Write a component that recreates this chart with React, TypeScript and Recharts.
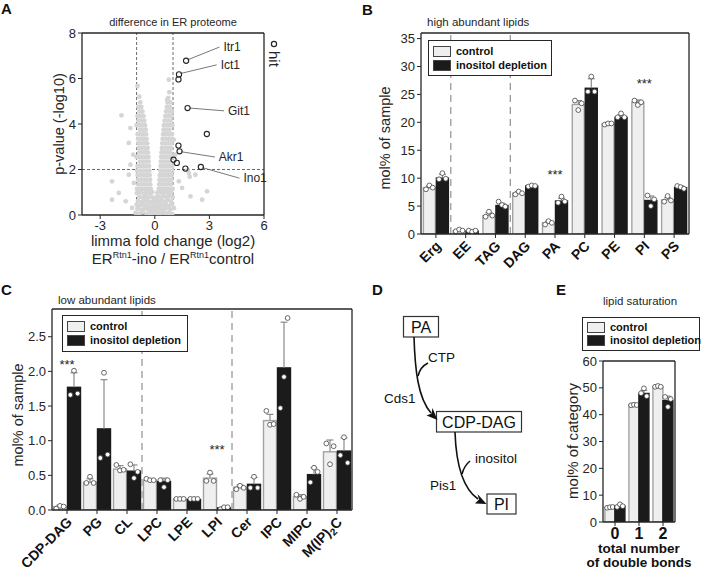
import React from "react"
import {
  Bar,
  BarChart,
  Legend,
  ReferenceDot,
  ReferenceLine,
  Scatter,
  ScatterChart,
  XAxis,
  YAxis,
} from "recharts"

const FONT = "'Liberation Sans', Arial, Helvetica, sans-serif"
const INK = "#262626"
const CONTROL_FILL = "#efefef"
const CONTROL_EDGE = "#a3a3a3"
const INO_FILL = "#1b1b1b"
const ERR_GREY = "#808080"
const CLOUD_GREY = "#d5d5d5"

// ---------- A: volcano plot ----------
const cloudCore: [number, number][] = [
  [-1.05, 0.1], [-0.85, 0.05], [-0.65, 0.12], [-0.45, 0.04], [-0.3, 0.08], [-0.18, 0.02], [-0.06, 0.06], [0.04, 0.03], [0.15, 0.09], [0.28, 0.05], [0.42, 0.11], [0.6, 0.06], [0.78, 0.1], [0.95, 0.04],
  [-0.95, 0.28], [-0.75, 0.22], [-0.58, 0.3], [-0.4, 0.25], [-0.25, 0.2], [-0.12, 0.18], [0.0, 0.22], [0.12, 0.26], [0.22, 0.2], [0.35, 0.28], [0.5, 0.22], [0.68, 0.3], [0.85, 0.24], [1.05, 0.3],
  [-1.0, 0.45], [-0.8, 0.42], [-0.62, 0.48], [-0.45, 0.4], [-0.3, 0.38], [-0.18, 0.36], [-0.05, 0.4], [0.08, 0.42], [0.2, 0.38], [0.32, 0.45], [0.46, 0.4], [0.62, 0.47], [0.78, 0.4], [0.95, 0.46],
  [-0.92, 0.62], [-0.72, 0.58], [-0.55, 0.66], [-0.38, 0.58], [-0.22, 0.55], [-0.1, 0.6], [0.03, 0.58], [0.15, 0.62], [0.27, 0.56], [0.4, 0.64], [0.55, 0.58], [0.7, 0.66], [0.88, 0.6],
  [-0.85, 0.8], [-0.66, 0.76], [-0.5, 0.84], [-0.34, 0.76], [-0.2, 0.8], [-0.06, 0.74], [0.08, 0.78], [0.2, 0.82], [0.33, 0.76], [0.48, 0.84], [0.64, 0.78], [0.8, 0.84], [0.98, 0.78],
  [-0.98, 0.96], [-0.78, 1.0], [-0.6, 0.94], [-0.44, 1.02], [-0.28, 0.96], [-0.14, 1.0], [0.14, 0.98], [0.28, 1.04], [0.42, 0.96], [0.58, 1.02], [0.74, 0.96], [0.9, 1.0],
]

const cloudLeftArm: [number, number][] = [
  [-0.22, 1.15], [-0.36, 1.15], [-0.52, 1.15], [-0.68, 1.15], [-0.84, 1.15], [-0.98, 1.15],
  [-0.25, 1.35], [-0.4, 1.35], [-0.56, 1.35], [-0.72, 1.35], [-0.9, 1.35],
  [-0.26, 1.55], [-0.42, 1.55], [-0.58, 1.55], [-0.75, 1.55], [-0.92, 1.55],
  [-0.28, 1.75], [-0.44, 1.75], [-0.6, 1.75], [-0.76, 1.75], [-0.94, 1.75],
  [-0.3, 1.95], [-0.46, 1.95], [-0.62, 1.95], [-0.8, 1.95], [-0.97, 1.95],
  [-0.32, 2.15], [-0.48, 2.15], [-0.64, 2.15], [-0.8, 2.15], [-0.95, 2.15],
  [-0.34, 2.35], [-0.5, 2.35], [-0.66, 2.35], [-0.82, 2.35],
  [-0.35, 2.55], [-0.52, 2.55], [-0.68, 2.55], [-0.85, 2.55], [-1.0, 2.55],
  [-0.38, 2.75], [-0.54, 2.75], [-0.7, 2.75], [-0.86, 2.75],
  [-0.4, 2.95], [-0.56, 2.95], [-0.72, 2.95], [-0.88, 2.95],
  [-0.42, 3.15], [-0.58, 3.15], [-0.74, 3.15], [-0.9, 3.15],
  [-0.45, 3.35], [-0.6, 3.35], [-0.76, 3.35], [-0.92, 3.35],
  [-0.48, 3.55], [-0.63, 3.55], [-0.78, 3.55], [-0.94, 3.55],
  [-0.5, 3.75], [-0.66, 3.75], [-0.82, 3.75],
  [-0.54, 3.95], [-0.7, 3.95], [-0.86, 3.95], [-1.0, 3.95],
  [-0.58, 4.15], [-0.74, 4.15], [-0.9, 4.15],
  [-0.62, 4.35], [-0.78, 4.35], [-0.95, 4.35],
  [-0.68, 4.55], [-0.84, 4.55],
  [-0.74, 4.75], [-0.9, 4.75],
  [-0.8, 4.95], [-0.85, 5.2], [-0.95, 5.67],
]

const cloudRightArm: [number, number][] = [
  [0.22, 1.15], [0.36, 1.15], [0.52, 1.15], [0.68, 1.15], [0.84, 1.15], [0.98, 1.15],
  [0.24, 1.35], [0.4, 1.35], [0.56, 1.35], [0.72, 1.35], [0.88, 1.35],
  [0.26, 1.55], [0.42, 1.55], [0.58, 1.55], [0.74, 1.55], [0.9, 1.55],
  [0.28, 1.75], [0.44, 1.75], [0.6, 1.75], [0.76, 1.75], [0.92, 1.75],
  [0.3, 1.95], [0.46, 1.95], [0.62, 1.95], [0.78, 1.95], [0.95, 1.95],
  [0.32, 2.15], [0.48, 2.15], [0.64, 2.15], [0.8, 2.15], [0.96, 2.15],
  [0.33, 2.35], [0.5, 2.35], [0.66, 2.35], [0.82, 2.35],
  [0.35, 2.55], [0.52, 2.55], [0.68, 2.55], [0.84, 2.55], [0.98, 2.55],
  [0.37, 2.75], [0.54, 2.75], [0.7, 2.75], [0.86, 2.75],
  [0.39, 2.95], [0.56, 2.95], [0.72, 2.95], [0.88, 2.95],
  [0.41, 3.15], [0.58, 3.15], [0.74, 3.15], [0.9, 3.15],
  [0.43, 3.35], [0.6, 3.35], [0.76, 3.35], [0.92, 3.35],
  [0.46, 3.55], [0.62, 3.55], [0.78, 3.55], [0.94, 3.55],
  [0.48, 3.75], [0.64, 3.75], [0.8, 3.75],
  [0.5, 3.95], [0.66, 3.95], [0.82, 3.95], [0.96, 3.95],
  [0.54, 4.15], [0.7, 4.15], [0.86, 4.15],
  [0.58, 4.35], [0.74, 4.35], [0.9, 4.35],
  [0.62, 4.55], [0.78, 4.55], [0.94, 4.55],
  [0.66, 4.75], [0.82, 4.75],
  [0.7, 4.95], [0.86, 4.95],
  [0.74, 5.15], [0.68, 5.07], [0.8, 5.4], [0.77, 5.95],
]

const cloudOutliers: [number, number][] = [
  [-1.83, 4.38], [-1.43, 3.17], [-1.34, 3.82], [-1.19, 2.65], [-1.43, 1.77], [-1.15, 1.41],
  [-1.98, 0.97], [-2.35, 0.67], [-1.6, 0.6], [-1.25, 0.31], [-2.35, 1.48], [-1.34, 2.21],
  [1.04, 3.31], [1.13, 2.65], [1.32, 1.48], [1.87, 1.85], [2.23, 1.77], [1.5, 1.19],
  [2.87, 1.04], [2.6, 0.67], [1.96, 0.82], [1.8, 1.98], [1.92, 1.68],
]

const hitPoints: [number, number][] = [
  [1.72, 6.78], [1.33, 6.18], [1.3, 5.96], [1.8, 4.7], [2.86, 3.56], [1.3, 3.05],
  [1.36, 2.8], [1.03, 2.43], [1.21, 2.29], [1.68, 2.04], [2.53, 2.11],
]

const hitNames = ["Itr1", "Ict1", "Git1", "Akr1", "Ino1"]
const hitLineFrom: [number, number][] = [[1.8, 6.82], [1.42, 6.22], [1.92, 4.7], [1.45, 2.78], [2.62, 2.08]]
const hitLineTo: [number, number][] = [[3.55, 7.38], [3.4, 6.6], [3.8, 4.58], [3.3, 2.55], [4.65, 1.62]]

const volcanoXTicks = [-3, 0, 3, 6]
const volcanoYTicks = [0, 2, 4, 6, 8]

// ---------- B: high abundant lipids ----------
const highLipids = ["Erg", "EE", "TAG", "DAG", "PA", "PC", "PE", "PI", "PS"]
const highControl = [8.3, 0.6, 3.3, 7.3, 2.0, 23.2, 19.7, 23.6, 6.1]
const highInositol = [10.0, 0.5, 5.1, 8.6, 5.9, 26.1, 20.9, 6.0, 8.3]
const highControlErr = [0.3, 0.15, 0.5, 0.3, 0.3, 0.7, 0.1, 0.4, 0.4]
const highInositolErr = [0.7, 0.15, 0.4, 0.1, 0.5, 1.7, 0.4, 0.8, 0.3]
const highControlReps = [[8.0, 8.7, 8.3], [0.5, 0.8, 0.6], [3.1, 4.0, 3.3], [7.1, 7.6, 7.3], [1.7, 2.3, 2.0], [23.9, 22.2, 23.4], [19.6, 19.8, 19.8], [23.9, 23.1, 23.6], [5.8, 6.8, 6.0]]
const highInositolReps = [[9.8, 10.9, 9.9], [0.6, 0.4, 0.6], [5.8, 5.2, 4.9], [8.5, 8.7, 8.6], [5.6, 6.7, 5.8], [25.5, 28.2, 25.5], [20.9, 21.6, 20.9], [6.9, 5.0, 6.2], [8.6, 8.4, 8.1]]
const highTicks = [0, 5, 10, 15, 20, 25, 30, 35]
const highStars = [{ name: "PA", at: 10.6 }, { name: "PI", at: 26.9 }]
const highDividers = ["EE", "DAG"]

// ---------- C: low abundant lipids ----------
const lowLipids = ["CDP-DAG", "PG", "CL", "LPC", "LPE", "LPI", "Cer", "IPC", "MIPC", "M(IP)2C"]
const lowControl = [0.05, 0.4, 0.59, 0.43, 0.16, 0.46, 0.33, 1.29, 0.19, 0.84]
const lowInositol = [1.77, 1.17, 0.56, 0.41, 0.15, 0.03, 0.37, 2.05, 0.51, 0.85]
const lowControlErr = [0.02, 0.05, 0.05, 0.02, 0.01, 0.06, 0.03, 0.09, 0.03, 0.17]
const lowInositolErr = [0.21, 0.71, 0.09, 0.05, 0.01, 0.02, 0.1, 0.66, 0.1, 0.19]
const lowControlReps = [[0.02, 0.06, 0.05], [0.39, 0.48, 0.39], [0.65, 0.57, 0.58], [0.45, 0.43, 0.43], [0.16, 0.16, 0.16], [0.42, 0.54, 0.42], [0.3, 0.35, 0.32], [1.43, 1.23, 1.24], [0.22, 0.16, 0.19], [0.96, 0.66, 0.92]]
const lowInositolReps = [[1.66, 2.01, 1.68], [0.75, 1.98, 0.8], [0.66, 0.46, 0.55], [0.43, 0.33, 0.43], [0.16, 0.16, 0.16], [0.01, 0.04, 0.04], [0.32, 0.48, 0.32], [1.47, 1.92, 2.77], [0.4, 0.61, 0.55], [0.79, 1.05, 0.68]]
const lowTicks = [0, 0.5, 1, 1.5, 2, 2.5]
const lowStars = [{ name: "CDP-DAG", at: 2.1 }, { name: "LPI", at: 0.87 }]
const lowDividers = ["LPC", "Cer"]

// ---------- E: lipid saturation ----------
const bondCounts = ["0", "1", "2"]
const satControl = [5.5, 43.6, 50.4]
const satInositol = [5.9, 47.9, 45.2]
const satControlErr = [0.2, 0.1, 0.2]
const satInositolErr = [0.5, 1.2, 1.7]
const satControlReps = [[5.3, 5.5, 5.6], [43.5, 43.7, 43.6], [50.4, 50.7, 50.4]]
const satInositolReps = [[5.6, 6.6, 5.9], [48.0, 49.8, 46.9], [46.6, 42.9, 45.8]]
const satTicks = [0, 10, 20, 30, 40, 50, 60]

const buildRows = (
  names: string[], control: number[], inositol: number[],
  controlErr: number[], inositolErr: number[],
  controlReps: number[][], inositolReps: number[][],
) =>
  names.map((name, k) => ({
    name,
    control: control[k],
    inositol: inositol[k],
    controlErr: controlErr[k],
    inositolErr: inositolErr[k],
    controlReps: controlReps[k],
    inositolReps: inositolReps[k],
  }))

const highRows = buildRows(highLipids, highControl, highInositol, highControlErr, highInositolErr, highControlReps, highInositolReps)
const lowRows = buildRows(lowLipids, lowControl, lowInositol, lowControlErr, lowInositolErr, lowControlReps, lowInositolReps)
const satRows = buildRows(bondCounts, satControl, satInositol, satControlErr, satInositolErr, satControlReps, satInositolReps)

// bar + error bar + replicate dots, all scaled from the bar the library computed
const barShape = (key: "control" | "inositol", fill: string, edge: string) => (p: any) => {
  const { x, y, width, height, payload } = p
  const v = payload[key]
  const unit = v > 0 ? height / v : 0
  const base = y + height
  const err = payload[key + "Err"] ?? 0
  const reps: number[] = payload[key + "Reps"] ?? []
  const cx = x + width / 2
  const errTop = y - err * unit
  const cap = Math.min(3.5, width / 3)
  return (
    <g>
      <rect x={x} y={y} width={width} height={height} fill={fill} stroke={edge} strokeWidth={1.4} />
      {err > 0 && (
        <g stroke={ERR_GREY} strokeWidth={1.1}>
          <line x1={cx} x2={cx} y1={y} y2={errTop} />
          <line x1={cx - cap} x2={cx + cap} y1={errTop} y2={errTop} />
        </g>
      )}
      {reps.map((r, k) => (
        <circle
          key={k}
          cx={x + width * (0.22 + 0.28 * k)}
          cy={base - r * unit}
          r={2.4}
          fill="#fff"
          stroke="#444"
          strokeWidth={0.8}
        />
      ))}
    </g>
  )
}

const SlantTick = ({ x, y, payload }: any) => {
  const label = String(payload.value)
  const ax = x + 6
  const ay = y + 7
  return (
    <text
      x={ax}
      y={ay}
      transform={`rotate(-45 ${ax} ${ay})`}
      textAnchor="end"
      fontSize={14}
      fontWeight="bold"
      fill="#111"
    >
      {label === "M(IP)2C" ? (
        <>
          M(IP)<tspan dy={3} fontSize={10}>2</tspan>
          <tspan dy={-3}>C</tspan>
        </>
      ) : (
        label
      )}
    </text>
  )
}

const LegendBox = ({ payload, height }: any) => (
  <div
    style={{
      boxSizing: "border-box",
      width: "100%",
      height,
      border: `1.3px solid ${INK}`,
      background: "#fff",
      padding: "3px 4px",
      fontFamily: FONT,
    }}
  >
    {(payload ?? []).map((e: any) => (
      <div
        key={e.value}
        style={{
          display: "flex",
          alignItems: "center",
          height: (height - 8) / 2,
          fontSize: 11,
          fontWeight: "bold",
          color: "#111",
          whiteSpace: "nowrap",
          lineHeight: 1,
        }}
      >
        <span
          style={{
            display: "inline-block",
            flex: "none",
            width: 16,
            height: 9,
            background: e.color,
            border: "1px solid #444",
            marginRight: 5,
          }}
        />
        {e.value}
      </div>
    ))}
  </div>
)

const axisLine = { stroke: INK, strokeWidth: 1.3 }
const tickStyle = { fontSize: 13, fill: INK }

function LipidBars(props: {
  rows: any[]
  width: number
  height: number
  margin: any
  yWidth: number
  xHeight: number
  ymax: number
  ticks: number[]
  fmt?: (v: number) => string
  gap: string
  barGap: number
  dividers: string[]
  stars: { name: string; at: number }[]
  legend: { left: number; top: number; width: number; height: number }
  slant: boolean
}) {
  const { rows, ymax, legend } = props
  return (
    <BarChart
      width={props.width}
      height={props.height}
      data={rows}
      margin={props.margin}
      barCategoryGap={props.gap}
      barGap={props.barGap}
    >
      <XAxis
        dataKey="name"
        interval={0}
        height={props.xHeight}
        axisLine={axisLine}
        tickLine={{ stroke: INK }}
        tickSize={4}
        tick={props.slant ? <SlantTick /> : { fontSize: 16, fontWeight: "bold", fill: "#111" }}
      />
      <XAxis xAxisId="top" orientation="top" dataKey="name" height={1} tick={false} tickLine={false} axisLine={axisLine} />
      <YAxis
        domain={[0, ymax]}
        ticks={props.ticks}
        width={props.yWidth}
        axisLine={axisLine}
        tickLine={{ stroke: INK }}
        tickSize={4}
        tick={tickStyle}
        tickFormatter={props.fmt}
        allowDataOverflow
      />
      <YAxis yAxisId="right" orientation="right" domain={[0, ymax]} width={1} tick={false} tickLine={false} axisLine={axisLine} />
      {props.dividers.map((d) => (
        <ReferenceLine key={d} x={d} position="start" stroke="#9a9a9a" strokeWidth={1.3} strokeDasharray="7 5" />
      ))}
      <Bar
        dataKey="control"
        name="control"
        fill={CONTROL_FILL}
        isAnimationActive={false}
        shape={barShape("control", CONTROL_FILL, CONTROL_EDGE)}
      />
      <Bar
        dataKey="inositol"
        name="inositol depletion"
        fill={INO_FILL}
        isAnimationActive={false}
        shape={barShape("inositol", INO_FILL, INO_FILL)}
      />
      {props.stars.map((s) => (
        <ReferenceDot
          key={s.name}
          x={s.name}
          y={s.at}
          r={0}
          fill="none"
          stroke="none"
          label={{ value: "***", position: "center", fontSize: 13, fill: INK }}
        />
      ))}
      <Legend
        layout="vertical"
        align="center"
        verticalAlign="middle"
        content={<LegendBox height={legend.height} />}
        wrapperStyle={{ left: legend.left, top: legend.top, width: legend.width, height: legend.height }}
      />
    </BarChart>
  )
}

function Volcano() {
  const toXY = (pts: [number, number][]) => pts.map(([x, y]) => ({ x, y }))
  const cloud = toXY([...cloudCore, ...cloudLeftArm, ...cloudRightArm, ...cloudOutliers])
  return (
    <ScatterChart width={300} height={280} margin={{ top: 32, right: 35, left: 52, bottom: 45 }}>
      <XAxis
        type="number"
        dataKey="x"
        domain={[-4, 6]}
        ticks={volcanoXTicks}
        height={20}
        axisLine={axisLine}
        tickLine={{ stroke: INK }}
        tickSize={4}
        tick={tickStyle}
        allowDataOverflow
      />
      <XAxis xAxisId="top" type="number" orientation="top" domain={[-4, 6]} height={1} tick={false} tickLine={false} axisLine={axisLine} />
      <YAxis
        type="number"
        dataKey="y"
        domain={[0, 8]}
        ticks={volcanoYTicks}
        width={30}
        axisLine={axisLine}
        tickLine={{ stroke: INK }}
        tickSize={4}
        tick={tickStyle}
        allowDataOverflow
      />
      <YAxis yAxisId="right" type="number" orientation="right" domain={[0, 8]} width={1} tick={false} tickLine={false} axisLine={axisLine} />
      <Scatter
        data={cloud}
        isAnimationActive={false}
        shape={(p: any) => <circle cx={p.cx} cy={p.cy} r={2.4} fill={CLOUD_GREY} />}
      />
      <ReferenceLine x={-1} stroke="#444" strokeWidth={0.8} strokeDasharray="3 2" />
      <ReferenceLine x={1} stroke="#444" strokeWidth={0.8} strokeDasharray="3 2" />
      <ReferenceLine y={2} stroke="#444" strokeWidth={0.8} strokeDasharray="3 2" />
      {hitNames.map((n, k) => (
        <ReferenceLine
          key={n}
          segment={[
            { x: hitLineFrom[k][0], y: hitLineFrom[k][1] },
            { x: hitLineTo[k][0], y: hitLineTo[k][1] },
          ]}
          stroke="#555"
          strokeWidth={0.8}
        />
      ))}
      <Scatter
        data={toXY(hitPoints)}
        isAnimationActive={false}
        shape={(p: any) => <circle cx={p.cx} cy={p.cy} r={2.6} fill="none" stroke={INK} strokeWidth={1.1} />}
      />
      {hitNames.map((n, k) => (
        <ReferenceDot
          key={n}
          x={hitLineTo[k][0]}
          y={hitLineTo[k][1]}
          r={0}
          fill="none"
          stroke="none"
          label={{ value: n, position: "right", offset: 4, fontSize: 12, fill: INK }}
        />
      ))}
    </ScatterChart>
  )
}

function Overlay() {
  const letter = { fontSize: 15, fontWeight: "bold" as const, fill: "#111" }
  const rotLabel = (x: number, y: number, text: string, size: number) => (
    <text x={x} y={y} transform={`rotate(-90 ${x} ${y})`} textAnchor="middle" fontSize={size} fill={INK}>
      {text}
    </text>
  )
  return (
    <svg width={705} height={573} style={{ position: "absolute", left: 0, top: 0, pointerEvents: "none" }} fontFamily={FONT}>
      <text x={1} y={14} {...letter}>A</text>
      <text x={362} y={15} {...letter}>B</text>
      <text x={1} y={295} {...letter}>C</text>
      <text x={372} y={295} {...letter}>D</text>
      <text x={556} y={295} {...letter}>E</text>

      {/* A */}
      <text x={173} y={26} textAnchor="middle" fontSize={11} fill={INK}>difference in ER proteome</text>
      {rotLabel(64, 124, "p-value (-log10)", 14.5)}
      <text x={173} y={246} textAnchor="middle" fontSize={15} fill={INK}>limma fold change (log2)</text>
      <text x={173} y={264} textAnchor="middle" fontSize={15} fill={INK}>
        ER<tspan dy={-6} fontSize={9}>Rtn1</tspan>
        <tspan dy={6}>-ino / ER</tspan>
        <tspan dy={-6} fontSize={9}>Rtn1</tspan>
        <tspan dy={6}>control</tspan>
      </text>
      <circle cx={274} cy={44} r={2.6} fill="none" stroke={INK} strokeWidth={1.2} />
      <text x={269} y={51} transform="rotate(90 269 51)" fontSize={15} fill={INK}>hit</text>

      {/* B */}
      <text x={427} y={26} fontSize={11.5} fill={INK}>high abundant lipids</text>
      {rotLabel(390, 138, "mol% of sample", 14.5)}

      {/* C */}
      <text x={58} y={304} fontSize={11.5} fill={INK}>low abundant lipids</text>
      {rotLabel(23, 415, "mol% of sample", 14.5)}

      {/* D */}
      <g stroke="#333" strokeWidth={1.2} fill="#fff">
        <rect x={403.5} y={316.5} width={35} height={20.5} />
        <rect x={436.5} y={411.5} width={85} height={20.5} />
        <rect x={487} y={494} width={29} height={20} />
      </g>
      <g fontSize={16} fill="#111" textAnchor="middle">
        <text x={421} y={332.5}>PA</text>
        <text x={479} y={427.5}>CDP-DAG</text>
        <text x={501.5} y={510}>PI</text>
      </g>
      <g stroke="#111" strokeWidth={1.6} fill="none">
        <path d="M414,337 C415,370 418,398 431,413" />
        <path d="M418,376 Q420,367 428,363" />
        <path d="M455,432 C456,462 462,488 478,499" />
        <path d="M462,474 Q464,466 470,461" />
      </g>
      <g fill="#111">
        <polygon points="437.5,420 426.5,415.5 431.5,413.5 432.5,408" />
        <polygon points="486.5,504 475,503.5 479,499.5 477.5,494" />
      </g>
      <g fontSize={13.5} fill="#111">
        <text x={428} y={362}>CTP</text>
        <text x={384} y={403}>Cds1</text>
        <text x={475} y={463}>inositol</text>
        <text x={430} y={490}>Pis1</text>
      </g>

      {/* E */}
      <text x={640} y={305} textAnchor="middle" fontSize={11.5} fill={INK}>lipid saturation</text>
      {rotLabel(578, 441, "mol% of category", 15)}
      <text x={639} y={553} textAnchor="middle" fontSize={13.5} fontWeight="bold" fill="#111">total number</text>
      <text x={639} y={567} textAnchor="middle" fontSize={13.5} fontWeight="bold" fill="#111">of double bonds</text>
    </svg>
  )
}

export default function App() {
  return (
    <div
      style={{
        position: "absolute",
        left: 0,
        top: 0,
        width: 705,
        height: 573,
        background: "#fff",
        fontFamily: FONT,
        overflow: "hidden",
      }}
    >
      <div style={{ position: "absolute", left: 0, top: 0 }}>
        <Volcano />
      </div>
      <div style={{ position: "absolute", left: 350, top: 0 }}>
        <LipidBars
          rows={highRows}
          width={355}
          height={290}
          margin={{ top: 32, right: 15, left: 35, bottom: 16 }}
          yWidth={36}
          xHeight={40}
          ymax={36}
          ticks={highTicks}
          gap="8%"
          barGap={1}
          dividers={highDividers}
          stars={highStars}
          legend={{ left: 78, top: 40, width: 124, height: 36 }}
          slant
        />
      </div>
      <div style={{ position: "absolute", left: 0, top: 280 }}>
        <LipidBars
          rows={lowRows}
          width={370}
          height={293}
          margin={{ top: 28, right: 17, left: 18, bottom: 13 }}
          yWidth={34}
          xHeight={50}
          ymax={2.9}
          ticks={lowTicks}
          fmt={(v) => v.toFixed(1)}
          gap="5%"
          barGap={1}
          dividers={lowDividers}
          stars={lowStars}
          legend={{ left: 62, top: 35, width: 126, height: 37 }}
          slant
        />
      </div>
      <div style={{ position: "absolute", left: 560, top: 290 }}>
        <LipidBars
          rows={satRows}
          width={145}
          height={283}
          margin={{ top: 70, right: 29, left: 13, bottom: 21 }}
          yWidth={30}
          xHeight={30}
          ymax={60}
          ticks={satTicks}
          gap="8%"
          barGap={0}
          dividers={[]}
          stars={[]}
          legend={{ left: 22, top: 27, width: 118, height: 34 }}
          slant={false}
        />
      </div>
      <Overlay />
    </div>
  )
}
